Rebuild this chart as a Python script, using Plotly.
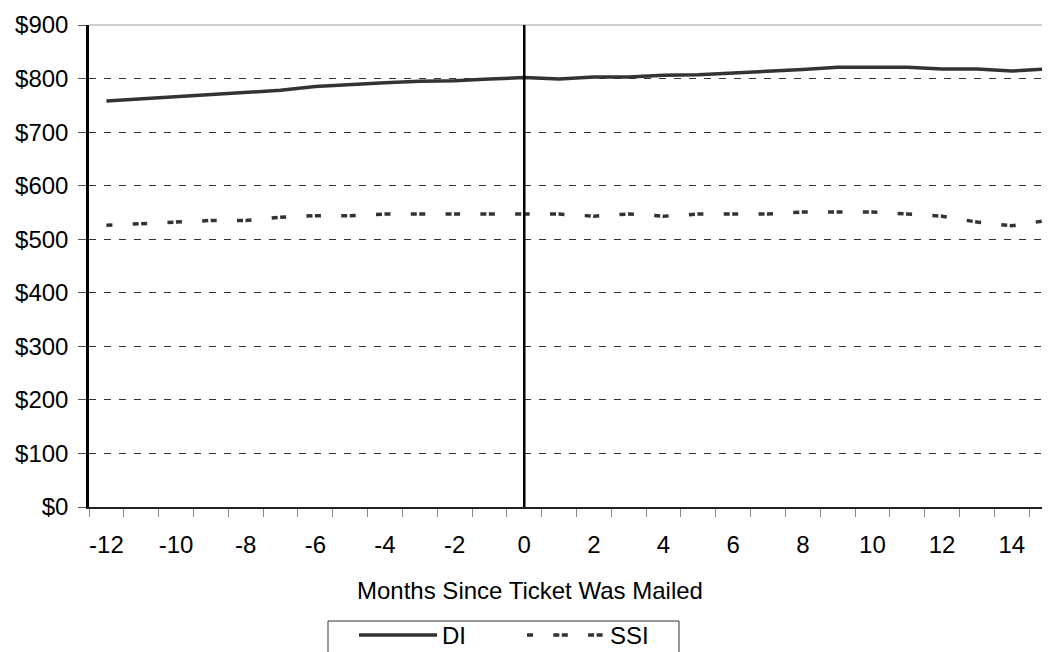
import plotly.graph_objects as go

months = [-12, -11, -10, -9, -8, -7, -6, -5, -4, -3, -2, -1, 0, 1, 2, 3, 4, 5,
          6, 7, 8, 9, 10, 11, 12, 13, 14, 15]
di = [758, 762, 766, 769, 773, 778, 785, 789, 792, 795, 796, 799, 802, 799,
      803, 803, 806, 807, 810, 813, 817, 821, 821, 821, 818, 818, 814, 818]
ssi = [526, 529, 532, 535, 535, 541, 544, 544, 547, 547, 547, 547, 547, 547,
       543, 547, 543, 547, 547, 547, 551, 551, 551, 547, 543, 532, 525, 535]
x_tick_labels = [-12, -10, -8, -6, -4, -2, 0, 2, 4, 6, 8, 10, 12, 14]
y_ticks = [0, 100, 200, 300, 400, 500, 600, 700, 800, 900]
x_title = "Months Since Ticket Was Mailed"

FONT = "Liberation Sans, Arial, sans-serif"
FS = 24

# page body has an 8px margin, so figure coords = screen coords - 8
L, T = 81, 17
PW = 1050 - L
PH = 499 - T


def px_x(sx):
    return (sx - 8 - L) / PW


def px_y(sy):
    return (499 - (sy - 8)) / PH


fig = go.Figure()
fig.add_trace(go.Scatter(x=months, y=di, name="DI", mode="lines",
                         line=dict(color="#333333", width=3.5)))
fig.add_trace(go.Scatter(x=months, y=ssi, name="SSI", mode="lines",
                         line=dict(color="#333333", width=3.5,
                                   dash="6px,20.3px,6px,2.5px")))

fig.add_vline(x=0, line=dict(color="black", width=2.5), layer="above")
# light top border of plot area
fig.add_shape(type="line", xref="paper", yref="paper", x0=0, x1=1, y0=1, y1=1,
              line=dict(color="#a0a0a0", width=1), layer="below")
# legend frame
fig.add_shape(type="rect", xref="paper", yref="paper",
              x0=px_x(328), x1=px_x(679), y0=px_y(621), y1=px_y(680),
              line=dict(color="#333333", width=1), fillcolor="rgba(0,0,0,0)")

fig.update_layout(
    width=1050, height=652,
    margin=dict(l=L, r=0, t=T, b=652 - 499, autoexpand=False),
    paper_bgcolor="white", plot_bgcolor="white",
    font=dict(family=FONT, size=FS, color="black"),
    showlegend=True,
    legend=dict(orientation="h", x=(352 - L) / PW - 6 / PW, y=px_y(613),
                xanchor="left", yanchor="top",
                borderwidth=0, itemwidth=78,
                font=dict(size=FS, family=FONT), bgcolor="rgba(0,0,0,0)",
                entrywidth=75, entrywidthmode="pixels"),
    xaxis=dict(range=[-12.5, -12.5 + PW / 34.82], tickmode="array",
               tickvals=x_tick_labels,
               ticktext=[str(v) for v in x_tick_labels],
               ticks="", showgrid=False, zeroline=False,
               showline=True, linecolor="#222222", linewidth=1.5,
               ticklabelstandoff=15,
               minor=dict(tickmode="array",
                          tickvals=[m - 0.5 for m in months],
                          ticks="outside", ticklen=8, tickcolor="#888888",
                          tickwidth=1, showgrid=False)),
    yaxis=dict(range=[0, 900], tickmode="array", tickvals=y_ticks,
               ticktext=["$" + str(v) for v in y_ticks],
               ticks="outside", ticklen=8, tickcolor="#555555", tickwidth=1,
               showgrid=True, gridcolor="#333333", gridwidth=1, griddash="7px,8px",
               zeroline=False, showline=True, linecolor="black", linewidth=2.5,
               ticklabelstandoff=5),
)

fig.add_annotation(text=x_title, xref="paper", yref="paper", x=px_x(530),
                   y=px_y(590), xanchor="center", yanchor="middle",
                   showarrow=False, font=dict(size=FS, family=FONT))

fig.write_html("out.html")
